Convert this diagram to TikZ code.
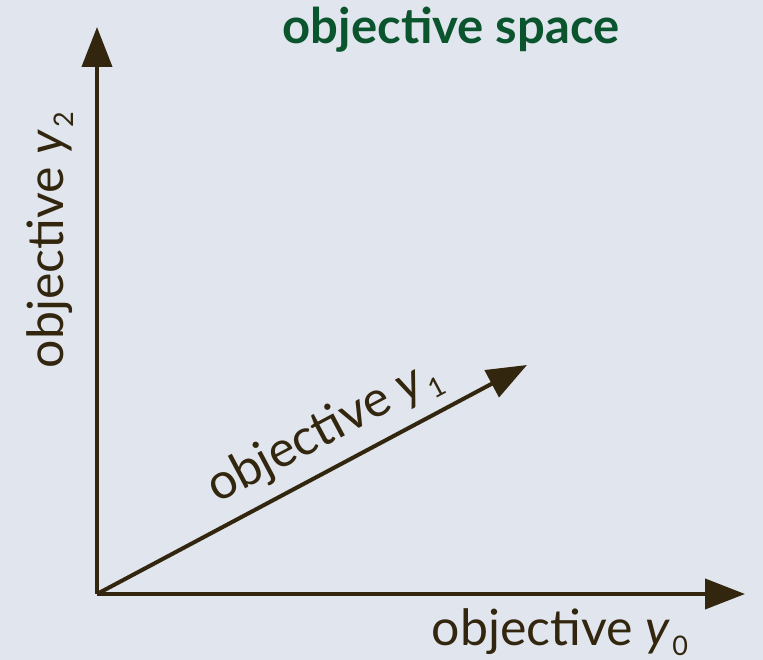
\documentclass[tikz,border=0pt]{standalone}
\usepackage{fontspec}
\setmainfont{Lato}
\usetikzlibrary{arrows.meta}
\definecolor{PaperGrey}{RGB}{225,229,237}
\definecolor{AxisBrown}{RGB}{50,38,14}
\definecolor{TitleGreen}{RGB}{10,84,46}
\newcommand{\objsub}[1]{\textit{y}\kern2pt\raisebox{-0.4ex}{\fontsize{27}{30}\selectfont #1}}

\begin{document}
\begin{tikzpicture}[x=1pt,y=1pt,>={Triangle[length=40pt,width=30pt]},
    axislabel/.style={AxisBrown,font=\fontsize{50}{56}\selectfont}]
      \fill[PaperGrey] (0,0) rectangle (763,660);
      \useasboundingbox (0,0) rectangle (763,660);
      \coordinate (O) at (97,66);
      \coordinate (Y0) at (745,66);
      \coordinate (Y1) at (527,295);
      \coordinate (Y2) at (97,633);
      \draw[->,line width=4pt,AxisBrown] (O)--(Y0);
      \draw[->,line width=4pt,AxisBrown] (O)--(Y2);
      \draw[->,line width=4pt,AxisBrown] (O)--(Y1);
      \node[TitleGreen,font=\fontsize{49}{56}\selectfont\bfseries] (title) at (451,630) {objective space};
      \node[axislabel,rotate=90] (lab2) at (50,420) {objective \objsub{2}};
      \node[axislabel,rotate=28] (lab1) at (324,228) {objective \objsub{1}};
      \node[axislabel] (lab0) at (560,28) {objective \objsub{0}};
    \end{tikzpicture}
\end{document}
